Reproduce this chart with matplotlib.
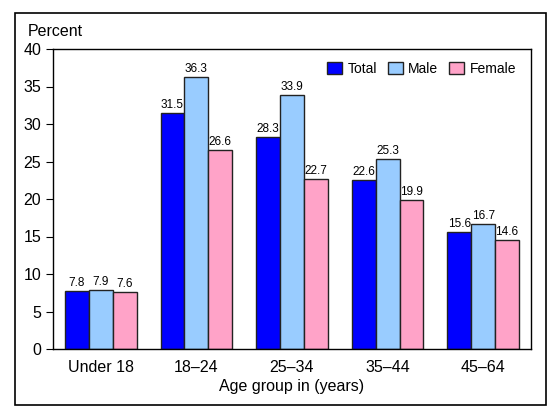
import numpy as np
import matplotlib.pyplot as plt
from matplotlib.patches import Rectangle

plt.rcParams['font.family'] = ['Liberation Sans', 'DejaVu Sans']

# data
groups = ["Under 18", "18\u201324", "25\u201334", "35\u201344", "45\u201364"]
total = [7.8, 31.5, 28.3, 22.6, 15.6]
male = [7.9, 36.3, 33.9, 25.3, 16.7]
female = [7.6, 26.6, 22.7, 19.9, 14.6]
series_names = ["Total", "Male", "Female"]
colors = ["#0000FF", "#99CCFF", "#FFA3C8"]

fig = plt.figure(figsize=(5.6, 4.2), dpi=100)
ax = fig.add_axes([53 / 560, 1 - 349 / 420, (531 - 53) / 560, (349 - 49) / 420])

# outer frame around the whole chart
fig.patches.append(Rectangle((15 / 560, 1 - 405 / 420), (546 - 15) / 560, (405 - 13) / 420,
                             transform=fig.transFigure, fill=False, edgecolor="black",
                             linewidth=1.2))

x = np.arange(len(groups))
w = 0.25
for i, (vals, name, c) in enumerate(zip([total, male, female], series_names, colors)):
    bars = ax.bar(x + (i - 1) * w, vals, w, color=c, edgecolor="#222222",
                  linewidth=1.0, label=name)
    for b, v in zip(bars, vals):
        ax.text(b.get_x() + b.get_width() / 2, v + 0.25, f"{v:.1f}",
                ha="center", va="bottom", fontsize=8.5)

ax.set_xlim(-0.5, len(groups) - 0.5)
ax.set_ylim(0, 40)
ax.set_yticks(range(0, 41, 5))
ax.set_xticks(x)
ax.set_xticklabels(groups, fontsize=11.5)
ax.tick_params(axis="y", labelsize=11.5, direction="out", length=5)
ax.tick_params(axis="x", length=0, pad=8)
ax.set_xlabel("Age group in (years)", fontsize=11.5, labelpad=3)
for s in ax.spines.values():
    s.set_linewidth(1.0)

fig.text(28 / 560, 1 - 32 / 420, "Percent", fontsize=11.5, va="center", ha="left")

ax.legend(loc="upper right", ncol=3, frameon=False, fontsize=10,
          handlelength=1.05, handleheight=1.05, handletextpad=0.4,
          columnspacing=0.8, bbox_to_anchor=(0.995, 1.0))

fig.savefig("out.png", dpi=100)
